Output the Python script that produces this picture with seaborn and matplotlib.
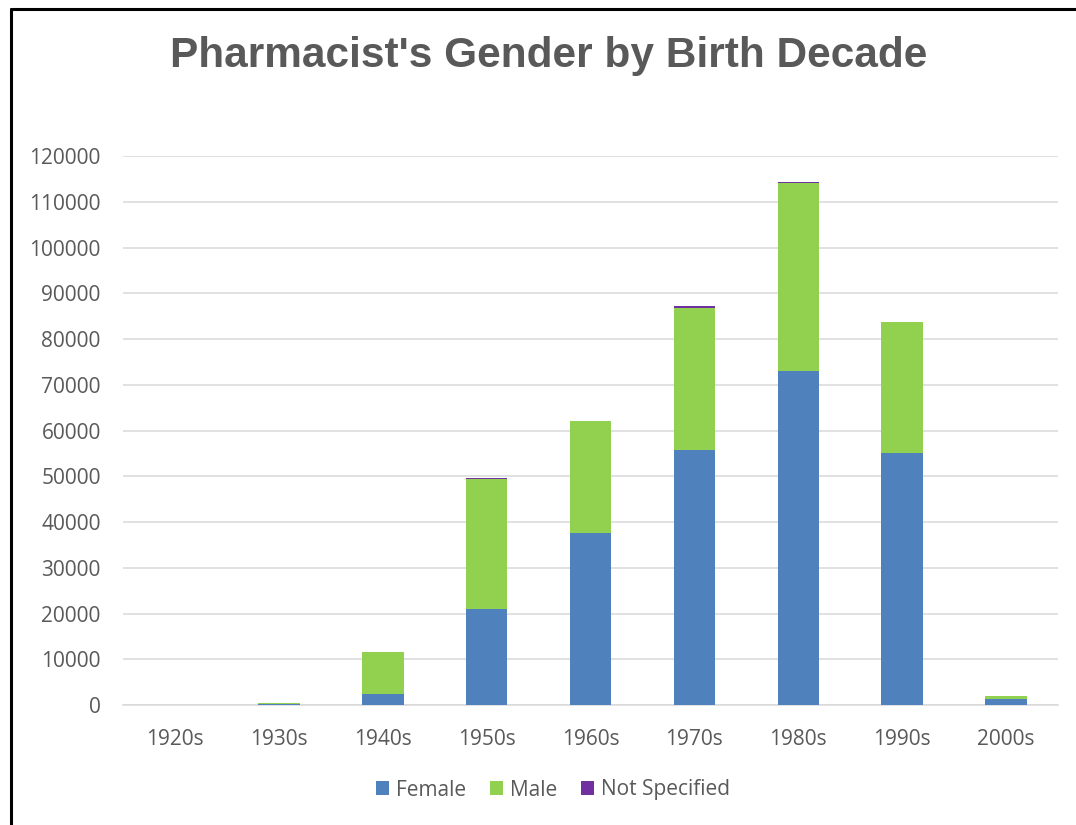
import numpy as np
import pandas as pd
import seaborn as sns
import matplotlib.pyplot as plt
from matplotlib.patches import Patch
from matplotlib.lines import Line2D

decades = ["1920s", "1930s", "1940s", "1950s", "1960s", "1970s", "1980s", "1990s", "2000s"]
female = [30, 150, 2340, 20980, 37660, 55750, 73070, 55080, 1300]
male = [60, 290, 9310, 28350, 24320, 31100, 41040, 28600, 730]
not_specified = [0, 0, 20, 300, 80, 350, 300, 100, 10]

colors = {"Female": "#4F81BD", "Male": "#92D050", "Not Specified": "#7030A0"}
text_gray = "#595959"

df = pd.DataFrame({"decade": decades, "Female": female, "Male": male,
                   "Not Specified": not_specified})
df["fm"] = df["Female"] + df["Male"]
df["total"] = df["fm"] + df["Not Specified"]

sns.set_theme(style="white")
plt.rcParams["font.family"] = ["Open Sans", "DejaVu Sans"]

fig = plt.figure(figsize=(10.76, 8.25), dpi=100)
ax = fig.add_axes([123 / 1076, 120 / 825, 935 / 1076, 549 / 825])

# stacked bars drawn as overlapping cumulative totals
for col, key in [("total", "Not Specified"), ("fm", "Male"), ("Female", "Female")]:
    sns.barplot(data=df, x="decade", y=col, color=colors[key], width=0.4,
                saturation=1, linewidth=0, edgecolor="none", ax=ax, zorder=3)

ax.set_ylim(0, 120000)
ax.set_yticks(np.arange(0, 120001, 10000))
ax.yaxis.grid(True, color="#d9d9d9", linewidth=1.1, zorder=0)
ax.set_axisbelow(True)
for s in ["top", "right", "left"]:
    ax.spines[s].set_visible(False)
ax.spines["bottom"].set_color("#d9d9d9")
ax.spines["bottom"].set_linewidth(1.1)
ax.set_xlabel("")
ax.set_ylabel("")
ax.tick_params(axis="y", length=0, pad=16, labelsize=15, labelcolor=text_gray)
ax.tick_params(axis="x", length=0, pad=17, labelsize=15, labelcolor=text_gray)

fig.text(0.51, 1 - 56 / 825, "Pharmacist's Gender by Birth Decade",
         ha="center", va="center", fontsize=30.5, fontweight="bold",
         color=text_gray, family=["Liberation Sans", "DejaVu Sans"])

handles = [Patch(facecolor=colors[k], edgecolor="none", label=k)
           for k in ["Female", "Male", "Not Specified"]]
leg = fig.legend(handles=handles, loc="center", bbox_to_anchor=(0.514, 1 - 790 / 825),
                 ncol=3, frameon=False, fontsize=15, handlelength=0.62,
                 handleheight=0.62, handletextpad=0.33, columnspacing=1.15)
for t in leg.get_texts():
    t.set_color(text_gray)

# border lines of the chart frame
fig.add_artist(Line2D([11 / 1076, 11 / 1076], [0, 1 - 8.5 / 825], color="black",
                      linewidth=2.2, transform=fig.transFigure))
fig.add_artist(Line2D([11 / 1076, 1], [1 - 8.5 / 825, 1 - 8.5 / 825], color="black",
                      linewidth=2.2, transform=fig.transFigure))

fig.savefig("out.png", dpi=100)
